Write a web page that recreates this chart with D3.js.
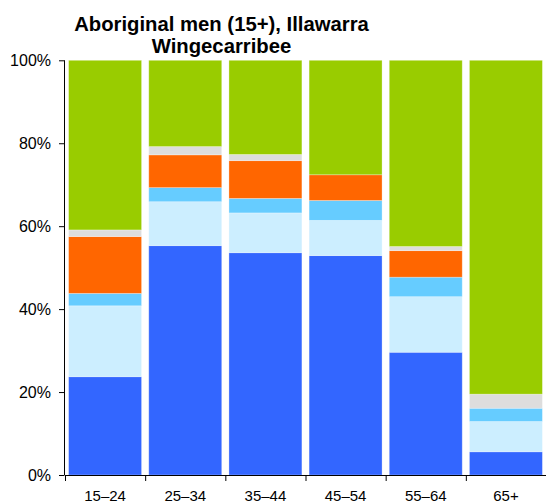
<!DOCTYPE html>
<html><head><meta charset="utf-8">
<script src="https://cdn.jsdelivr.net/npm/d3@7"></script>
<style>body{margin:0;background:#fff}svg{display:block}text{font-family:"Liberation Sans",Arial,Helvetica,sans-serif}</style>
</head><body><div id="chart"></div>
<script>
const categories = ["15–24","25–34","35–44","45–54","55–64","65+"];
const seriesNames = ["s1","s2","s3","s4","s5","s6"];
const s1 = [23.7, 55.3, 53.6, 52.9, 29.6, 5.6];
const s2 = [17.1, 10.6, 9.6, 8.5, 13.4, 7.3];
const s3 = [3.0, 3.4, 3.5, 4.8, 4.7, 3.2];
const s4 = [13.7, 7.9, 9.1, 6.2, 6.4, 0];
const s5 = [1.6, 2.0, 1.5, 0, 1.0, 3.4];
const s6 = [40.9, 20.8, 22.7, 27.6, 44.9, 80.5];
const colors = ["#3366FF","#CCEEFF","#66CCFF","#FF6600","#DDDDDD","#99CC00"];
const yTicks = [0,20,40,60,80,100];
const titleLines = ["Aboriginal men (15+), Illawarra","Wingecarribee"];

const W = 546, H = 504;
const m = {left:65, right:0, top:60.3, bottom:29};
const svg = d3.select("#chart").append("svg").attr("width",W).attr("height",H);

const rows = categories.map((c,i)=>({cat:c, s1:s1[i], s2:s2[i], s3:s3[i], s4:s4[i], s5:s5[i], s6:s6[i]}));
const stack = d3.stack().keys(seriesNames).offset(d3.stackOffsetExpand)(rows);

const x = d3.scaleBand().domain(categories).range([m.left, W-m.right]).paddingInner(0.09).paddingOuter(0.045);
const xb = d3.scaleBand().domain(categories).range([m.left, W-m.right]);
const y = d3.scaleLinear().domain([0,1]).range([H-m.bottom, m.top]);

svg.append("g").selectAll("g").data(stack).join("g").attr("fill",(d,i)=>colors[i])
  .selectAll("rect").data(d=>d).join("rect")
  .attr("x",d=>x(d.data.cat)).attr("width",x.bandwidth())
  .attr("y",d=>y(d[1])).attr("height",d=>Math.max(0,y(d[0])-y(d[1])))
  .attr("stroke","rgba(255,255,255,0.35)").attr("stroke-width",0.8);

// y axis
const ya = svg.append("g").attr("transform",`translate(${m.left},0)`)
  .call(d3.axisLeft(y).tickValues(yTicks.map(v=>v/100)).tickFormat((d,i)=>yTicks[i]+"%").tickSize(6).tickPadding(8));
ya.selectAll("text").style("font-size","16px").attr("fill","#000");
ya.selectAll("line,path").attr("stroke","#000");
ya.select(".domain").attr("d",`M-0.5,${y(1)}V${y(0)}`).attr("stroke","#000");
ya.selectAll(".tick line").attr("x1",-0.5).attr("x2",-6);

// x axis
const xa = svg.append("g").attr("transform",`translate(0,${y(0)})`)
  .call(d3.axisBottom(xb).tickSize(0).tickPadding(15));
xa.selectAll("text").style("font-size","15px").attr("fill","#000");
xa.select(".domain").attr("d",`M${m.left},0.5H${W}`).attr("stroke","#000");
xa.selectAll(".bt").data(categories).join("line").attr("class","bt")
  .attr("x1",d=>xb(d)+0.5).attr("x2",d=>xb(d)+0.5).attr("y1",0).attr("y2",6).attr("stroke","#000");

// title
svg.append("g").selectAll("text").data(titleLines).join("text")
  .attr("x",221.5).attr("y",(d,i)=>31+i*22).attr("text-anchor","middle")
  .style("font-size","20.3px").style("font-weight","bold").text(d=>d);
</script></body></html>
